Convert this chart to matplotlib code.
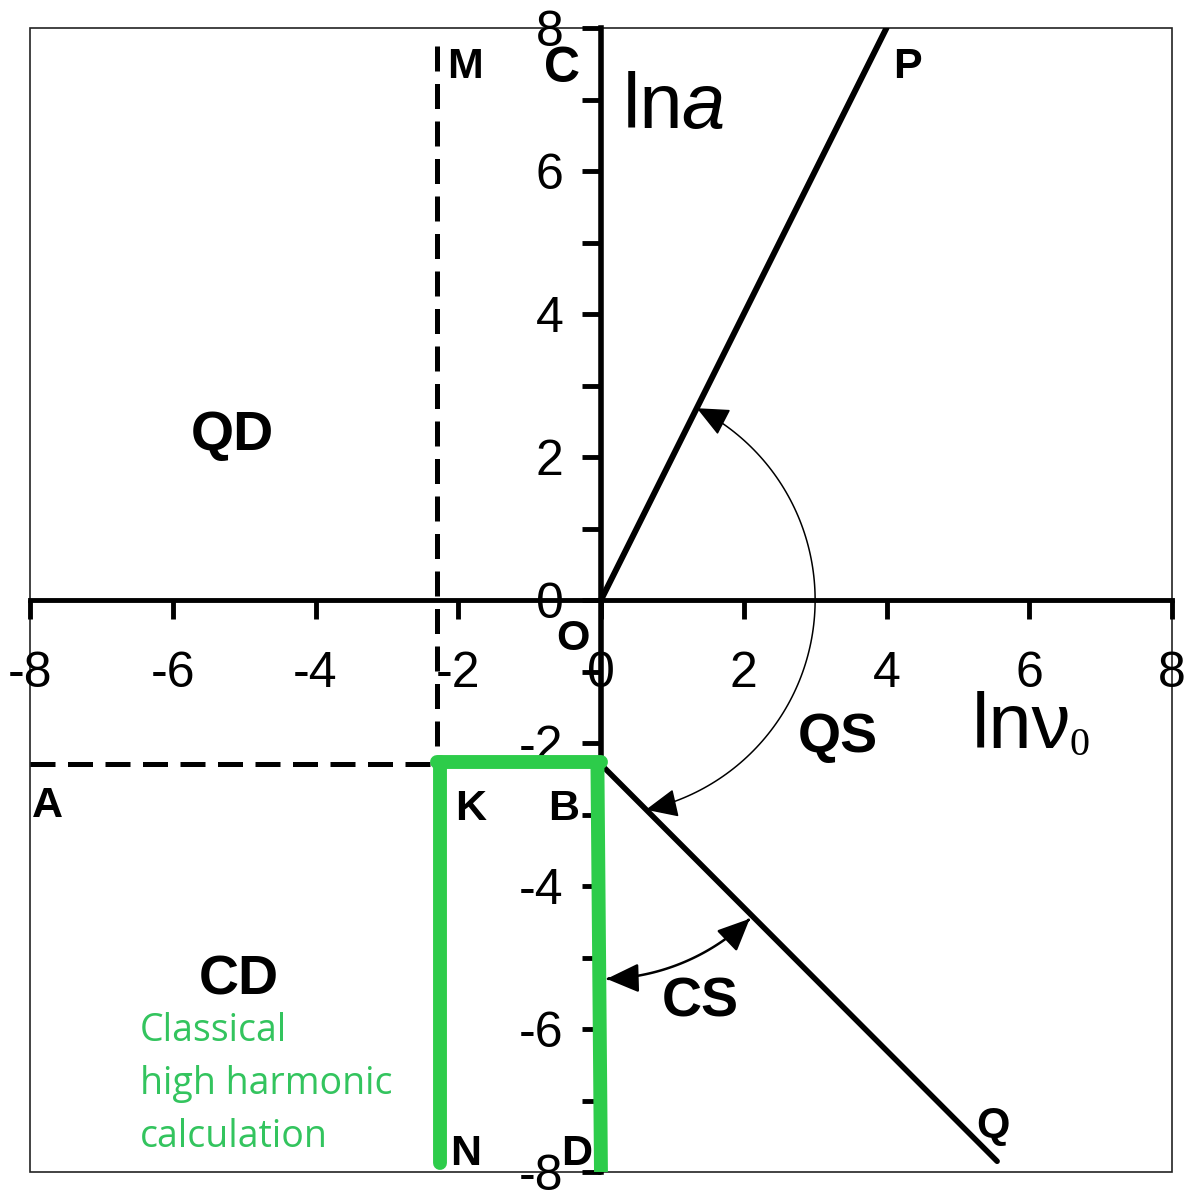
import numpy as np
import matplotlib
matplotlib.use("Agg")
import matplotlib.pyplot as plt
from matplotlib.patches import FancyArrowPatch, Rectangle
from matplotlib.path import Path

# ticks on both axes
x_ticks = [-8, -6, -4, -2, 0, 2, 4, 6, 8]
y_ticks = [-8, -6, -4, -2, 0, 2, 4, 6, 8]
y_minor = [-7, -5, -3, -1, 1, 3, 5, 7]

# solid boundaries O-P and B-Q
op_x = [0, 4]
op_y = [0, 8]
bq_x = [0, 5.55]
bq_y = [-2.3, -7.85]

# dashed boundaries M-K and A-K
mk_x = [-2.3, -2.3]
mk_y = [7.75, -2.3]
ak_x = [-8, -2.3]
ak_y = [-2.3, -2.3]

# green strip K-B / K-N / B-D
green_top_x = [-2.3, 0.0]
green_top_y = [-2.27, -2.27]
green_left_x = [-2.25, -2.25]
green_left_y = [-2.27, -7.88]
green_right_x = [-0.05, 0.0]
green_right_y = [-2.3, -8.05]

# point letters
pt_names = ["M", "C", "P", "O", "A", "K", "B", "N", "D", "Q"]
pt_x = [-1.9, -0.55, 4.29, -0.39, -7.76, -1.83, -0.53, -1.89, -0.34, 5.49]
pt_y = [7.30, 7.25, 7.30, -0.70, -3.03, -3.08, -3.08, -7.90, -7.90, -7.51]

# region names
reg_names = ["QD", "QS", "CD", "CS"]
reg_x = [-5.17, 3.32, -5.08, 1.39]
reg_y = [2.10, -2.13, -5.52, -5.83]

# angle arcs: (centre x, centre y, radius, start deg, end deg)
qs_arc = (0.0, 0.0, 3.0, 63.4, -77.9)
cs_arc = (0.0, -2.3, 3.0, -88.5, -46.0)

GREEN = "#2dcc4a"
GREEN_TXT = "#33c45e"

plt.rcParams["font.family"] = ["Liberation Sans", "DejaVu Sans"]
plt.rcParams["axes.unicode_minus"] = False

W, H = 1184, 1194
fig = plt.figure(figsize=(W / 100, H / 100), dpi=100)
ax = fig.add_axes([30 / W, 22 / H, 1142 / W, 1144 / H])
ax.set_xlim(-8, 8)
ax.set_ylim(-8, 8)

# axes through the origin
for s in ["top", "right"]:
    ax.spines[s].set_visible(False)
ax.spines["left"].set_position(("data", 0))
ax.spines["bottom"].set_position(("data", 0))
ax.spines["left"].set_linewidth(4)
ax.spines["bottom"].set_linewidth(3.5)
ax.add_patch(Rectangle((0, 0), 1, 1, transform=ax.transAxes, fill=False,
                       lw=1.2, ec="#222222", clip_on=False, zorder=1))

ax.set_xticks(x_ticks)
ax.set_yticks(y_ticks)
ax.set_yticks(y_minor, minor=True)
ax.tick_params(axis="x", direction="out", length=14, width=3.5, pad=23, labelsize=36)
ax.tick_params(axis="y", which="both", direction="out", length=14, width=3.5)
ax.tick_params(axis="y", which="major", pad=13, labelsize=36)

# boundary lines
ax.plot(op_x, op_y, color="black", lw=4.3, solid_capstyle="round", zorder=3)
ax.plot(bq_x, bq_y, color="black", lw=4.0, solid_capstyle="round", zorder=3)
ax.plot(mk_x, mk_y, color="black", lw=3.6, dashes=(5, 2.5), zorder=3)
ax.plot(ak_x, ak_y, color="black", lw=3.6, dashes=(5, 2.5), zorder=3)

for gx, gy in [(green_top_x, green_top_y), (green_left_x, green_left_y),
               (green_right_x, green_right_y)]:
    ax.plot(gx, gy, color=GREEN, lw=10, solid_capstyle="round", zorder=4)


def arc_arrow(cx, cy, r, a0, a1, lw):
    t = np.radians(np.linspace(a0, a1, 120))
    verts = np.column_stack([cx + r * np.cos(t), cy + r * np.sin(t)])
    arr = FancyArrowPatch(path=Path(verts), arrowstyle="<|-|>,head_length=1.0,head_width=0.45",
                          mutation_scale=20, lw=lw, color="black",
                          shrinkA=0, shrinkB=0, zorder=5)
    ax.add_patch(arr)


arc_arrow(*qs_arc, lw=1.1)
arc_arrow(*cs_arc, lw=1.8)

for name, x, y in zip(pt_names, pt_x, pt_y):
    fs = 36 if name == "C" else 31
    ax.text(x, y, name, fontsize=fs, fontweight="bold", ha="center", va="baseline", zorder=6)

for name, x, y in zip(reg_names, reg_x, reg_y):
    ax.text(x, y, name, fontsize=40, fontweight="bold", ha="center", va="baseline", zorder=6)

# axis names
ax.text(0.31, 6.60, "ln", fontsize=56, ha="left", va="baseline")
ax.text(1.13, 6.60, "a", fontsize=56, style="italic", ha="left", va="baseline")
ax.text(5.20, -2.07, "ln\u03bd", fontsize=56, ha="left", va="baseline")
ax.text(6.56, -2.17, "0", fontsize=29, family="Liberation Serif", ha="left", va="baseline")

# multi-line text: baseline refers to the last line
ax.text(-6.46, -7.65, "Classical\nhigh harmonic\ncalculation", fontsize=27,
        family="Open Sans", color=GREEN_TXT, ha="left", va="baseline", linespacing=1.52)

fig.savefig("out.png", dpi=100)
